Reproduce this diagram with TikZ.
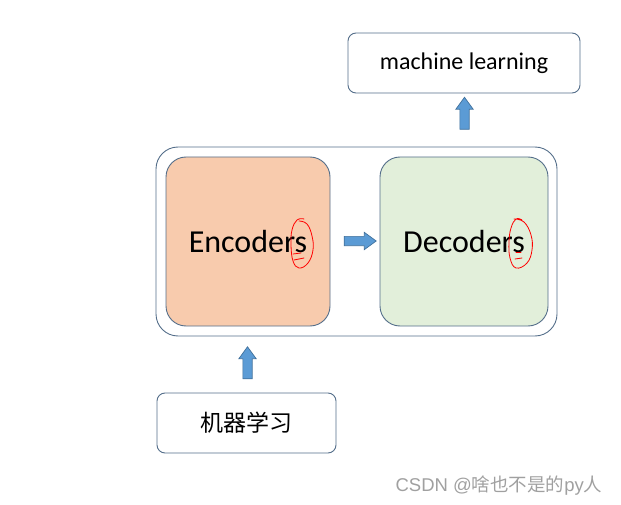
\documentclass[tikz,border=0pt]{standalone}
\usepackage{fontspec}
\setmainfont{Carlito}
\newfontfamily\cjk{Noto Sans CJK SC}
\newfontfamily\wmfont{Liberation Sans}
\usetikzlibrary{shapes.arrows}
\definecolor{BoxLine}{RGB}{84, 110, 138}
\definecolor{EncFill}{RGB}{248, 203, 173}
\definecolor{DecFill}{RGB}{226, 239, 218}
\definecolor{ArrFill}{RGB}{91, 155, 213}
\definecolor{ArrLine}{RGB}{65, 113, 156}
\definecolor{WmGray}{RGB}{160, 160, 160}

\begin{document}
\begin{tikzpicture}[x=1pt, y=-1pt,
    frame/.style={draw=BoxLine, line width=0.9pt, rounded corners=22pt, minimum width=401pt, minimum height=189pt},
    coder/.style={draw=BoxLine, line width=0.9pt, rounded corners=20pt, minimum height=169pt, font=\fontsize{32}{38}\selectfont},
    label/.style={draw=BoxLine, line width=0.9pt, fill=white, rounded corners=8pt, minimum height=60pt},
    blockarrow/.style={single arrow, fill=ArrFill, draw=ArrLine, line width=0.7pt, inner xsep=0pt, inner ysep=4.3pt, minimum height=32pt, minimum width=0pt, single arrow head extend=4pt, single arrow tip angle=72},
    scribble/.style={draw=red, line width=0.8pt, line cap=round}
  ]
  \useasboundingbox (0,0) rectangle (621,505);

  \node[frame] (outer) at (356.5, 241.5) {};
  \node[coder, fill=EncFill, minimum width=164pt] (enc) at (248, 241.5) {Encoders};
  \node[coder, fill=DecFill, minimum width=168pt] (dec) at (464, 241.5) {Decoders};
  \node[label, minimum width=232pt, font=\fontsize{24}{28}\selectfont] (ml) at (464, 63) {machine learning};
  \node[label, minimum width=179pt, font=\cjk\fontsize{23}{27}\selectfont] (cn) at (246.5, 423) {机器学习};

  % block arrows
  \node[blockarrow, rotate=90] (upcn) at (247.5, 366) {};
  \node[blockarrow] (mid) at (357, 241) {};
  \node[blockarrow, rotate=90] (upml) at (464.5, 116.5) {};

  % red marks round the final s
  \draw[scribble] plot[smooth, tension=0.7] coordinates {(299,221) (307,224) (312,236) (313,250) (308,263) (299,268) (293,261) (291,245) (292,230) (297,220) (304,219)};
  \draw[scribble] (293,254) -- (301,253);
  \draw[scribble] (294,260) -- (304,258);
  \draw[scribble] plot[smooth, tension=0.7] coordinates {(514,219) (524,222) (531,235) (532,250) (527,263) (516,268) (510,258) (509,242) (511,228) (516,219) (522,220)};
  \draw[scribble] (516,252) -- (521,252);
  \draw[scribble] (515,259) -- (522,258);

  \node[text=WmGray, font=\fontsize{18.5}{22}\selectfont] (mark) at (499, 486) {\wmfont CSDN @\cjk 啥也不是的\wmfont py\cjk 人};
\end{tikzpicture}
\end{document}
